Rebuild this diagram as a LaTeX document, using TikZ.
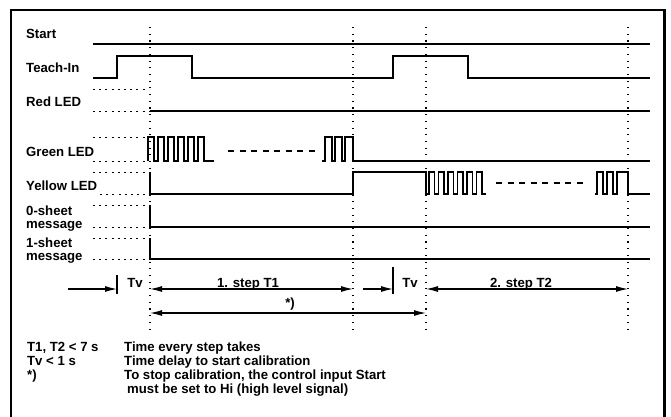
\documentclass[tikz,border=0pt]{standalone}
\usepackage{fontspec}
\setmainfont{Liberation Sans}[FakeStretch=0.99]
\usetikzlibrary{arrows.meta}
\begin{document}
\begin{tikzpicture}[x=1pt,y=-1pt,
  sig/.style={line width=1.3pt,line join=miter},
  dotv/.style={line width=1.1pt,dash pattern=on 1.1pt off 5.6pt},
  doth/.style={line width=1pt,dash pattern=on 2pt off 4.2pt},
  dashsig/.style={line width=1.1pt,dash pattern=on 6pt off 5.5pt},
  frame/.style={line width=2.3pt},
  arr/.style={line width=1.1pt},
  tip/.tip={Latex[length=12pt,width=6pt]},
  lbl/.style={anchor=base west,inner sep=0pt,font=\fontsize{13.3}{14}\selectfont\bfseries},
  mid/.style={anchor=base,inner sep=0pt,font=\fontsize{13.3}{14}\selectfont\bfseries}]
\useasboundingbox (0,0) rectangle (671,416);
\fill[white] (0,0) rectangle (671,416);
% frame
\draw[frame] (11,417) -- (11,10) -- (664.5,10) -- (664.5,417);
% vertical dotted guides
\foreach \x/\n in {150/ga,353/gb,426/gc,628/gd}{
  \coordinate (\n top) at (\x,27);
  \coordinate (\n bot) at (\x,329);
  \draw[dotv] (\n top) -- (\n bot);
}
% labels
\node[lbl] (lstart) at (26,38) {Start};
\node[lbl] (lteach) at (26,72) {Teach-In};
\node[lbl] (lred) at (26,106) {Red LED};
\node[lbl] (lgreen) at (26,156) {Green LED};
\node[lbl] (lyellow) at (26,190.5) {Yellow LED};
\node[lbl] (l0a) at (26,215) {0-sheet};
\node[lbl] (l0b) at (26,228.5) {message};
\node[lbl] (l1a) at (26,247) {1-sheet};
\node[lbl] (l1b) at (26,260.5) {message};
% Start
\draw[sig] (93,44) -- (650,44);
% Teach-In
\draw[sig] (93,78) -- (117,78) -- (117,56) -- (192,56) -- (192,78) -- (393,78) -- (393,56) -- (468,56) -- (468,78) -- (650,78);
% Red LED
\draw[doth] (93,89) -- (148,89);
\draw[doth] (93,111) -- (149,111);
\draw[sig] (150,111) -- (650,111);
% Green LED
\draw[doth] (93,137) -- (147,137);
\draw[doth] (93,161) -- (147,161);
\draw[sig] (148,161) foreach \k in {0,...,5} { -- ++(0,-24) -- ++(6,0) -- ++(0,24) -- ++(4,0) } -- (214,161);
\draw[dashsig] (228,151) -- (316,151);
\draw[sig] (322,161) -- (325,161) -- (325,137) -- (332,137) -- (332,161) -- (335,161) -- (335,137) -- (342,137) -- (342,161) -- (345,161) -- (345,137) -- (353,137) -- (353,161) -- (650,161);
% Yellow LED
\draw[doth] (93,172) -- (149,172);
\draw[doth] (100,194) -- (149,194);
\draw[sig] (150,172) -- (150,194) -- (353,194) -- (353,172) -- (426,172) -- (426,194) -- (429,194)
  foreach \k in {0,...,5} { -- ++(0,-22) -- ++(5.5,0) -- ++(0,22) -- ++(4,0) } -- (486,194);
\draw[dashsig] (496,183) -- (584,183);
\draw[sig] (595,194) -- (597,194) -- (597,172) -- (603,172) -- (603,194) -- (607,194) -- (607,172) -- (613,172) -- (613,194) -- (617,194) -- (617,172) -- (628,172) -- (628,194) -- (650,194);
% 0-sheet
\draw[doth] (93,205) -- (149,205);
\draw[doth] (93,227) -- (149,227);
\draw[sig] (150,205) -- (150,227) -- (650,227);
% 1-sheet
\draw[doth] (93,238) -- (149,238);
\draw[doth] (93,259) -- (149,259);
\draw[sig] (150,238) -- (150,259) -- (650,259);
% timing arrows
\coordinate (r1a) at (68,289);
\coordinate (r1b) at (117,289);
\coordinate (t1top) at (117,275);
\coordinate (t1bot) at (117,294);
\coordinate (r1c) at (150,289);
\coordinate (r1d) at (353,289);
\coordinate (r1e) at (363,289);
\coordinate (r1f) at (393,289);
\coordinate (t2top) at (393,267);
\coordinate (t2bot) at (393,294);
\coordinate (r1g) at (426,289);
\coordinate (r1h) at (628,289);
\coordinate (r2a) at (150,313);
\coordinate (r2b) at (426,313);
\draw[arr,-tip] (r1a) -- (r1b);
\draw[arr] (t1top) -- (t1bot);
\draw[arr,tip-tip] (r1c) -- (r1d);
\draw[arr,-tip] (r1e) -- (r1f);
\draw[arr] (t2top) -- (t2bot);
\draw[arr,tip-tip] (r1g) -- (r1h);
\draw[arr,tip-tip] (r2a) -- (r2b);
\node[mid] (tva) at (135,287) {Tv};
\node[mid] (st1) at (248,287) {1. step T1};
\node[mid] (tvb) at (410,287) {Tv};
\node[mid] (st2) at (521,287) {2. step T2};
\node[mid] (star) at (290,307) {*)};
% legend
\node[lbl] (k1) at (27,351.5) {T1, T2 < 7 s};
\node[lbl] (k2) at (27,365.7) {Tv < 1 s};
\node[lbl] (k3) at (27,379.7) {*)};
\node[lbl] (d1) at (124,351.5) {Time every step takes};
\node[lbl] (d2) at (124,365.7) {Time delay to start calibration};
\node[lbl] (d3) at (124,379.7) {To stop calibration, the control input Start};
\node[lbl] (d4) at (127,393.7) {must be set to Hi (high level signal)};
\end{tikzpicture}
\end{document}
